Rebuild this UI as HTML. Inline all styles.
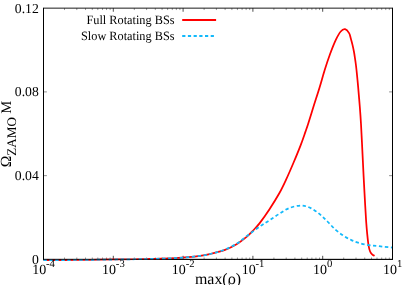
<!DOCTYPE html>
<html><head><meta charset="utf-8"><title>chart</title>
<style>html,body{margin:0;padding:0;background:#fff;}body{width:407px;height:285px;overflow:hidden;font-family:"Liberation Serif",serif;}</style>
</head><body>
<svg width="407" height="285" viewBox="0 0 407 285" style="display:block;will-change:transform">
<rect width="407" height="285" fill="#fff"/>
<path d="M64.51 259.40 v-1.9 M64.51 8.15 v1.9 M76.80 259.40 v-1.9 M76.80 8.15 v1.9 M85.52 259.40 v-1.9 M85.52 8.15 v1.9 M92.29 259.40 v-1.9 M92.29 8.15 v1.9 M97.81 259.40 v-1.9 M97.81 8.15 v1.9 M102.49 259.40 v-1.9 M102.49 8.15 v1.9 M106.54 259.40 v-1.9 M106.54 8.15 v1.9 M110.11 259.40 v-1.9 M110.11 8.15 v1.9 M134.31 259.40 v-1.9 M134.31 8.15 v1.9 M146.60 259.40 v-1.9 M146.60 8.15 v1.9 M155.32 259.40 v-1.9 M155.32 8.15 v1.9 M162.09 259.40 v-1.9 M162.09 8.15 v1.9 M167.61 259.40 v-1.9 M167.61 8.15 v1.9 M172.29 259.40 v-1.9 M172.29 8.15 v1.9 M176.34 259.40 v-1.9 M176.34 8.15 v1.9 M179.91 259.40 v-1.9 M179.91 8.15 v1.9 M204.11 259.40 v-1.9 M204.11 8.15 v1.9 M216.40 259.40 v-1.9 M216.40 8.15 v1.9 M225.12 259.40 v-1.9 M225.12 8.15 v1.9 M231.89 259.40 v-1.9 M231.89 8.15 v1.9 M237.41 259.40 v-1.9 M237.41 8.15 v1.9 M242.09 259.40 v-1.9 M242.09 8.15 v1.9 M246.14 259.40 v-1.9 M246.14 8.15 v1.9 M249.71 259.40 v-1.9 M249.71 8.15 v1.9 M273.91 259.40 v-1.9 M273.91 8.15 v1.9 M286.20 259.40 v-1.9 M286.20 8.15 v1.9 M294.92 259.40 v-1.9 M294.92 8.15 v1.9 M301.69 259.40 v-1.9 M301.69 8.15 v1.9 M307.21 259.40 v-1.9 M307.21 8.15 v1.9 M311.89 259.40 v-1.9 M311.89 8.15 v1.9 M315.94 259.40 v-1.9 M315.94 8.15 v1.9 M319.51 259.40 v-1.9 M319.51 8.15 v1.9 M343.71 259.40 v-1.9 M343.71 8.15 v1.9 M356.00 259.40 v-1.9 M356.00 8.15 v1.9 M364.72 259.40 v-1.9 M364.72 8.15 v1.9 M371.49 259.40 v-1.9 M371.49 8.15 v1.9 M377.01 259.40 v-1.9 M377.01 8.15 v1.9 M381.69 259.40 v-1.9 M381.69 8.15 v1.9 M385.74 259.40 v-1.9 M385.74 8.15 v1.9 M389.31 259.40 v-1.9 M389.31 8.15 v1.9" stroke="#333" stroke-width="0.5" fill="none"/>
<path d="M113.30 259.40 v-3.6 M113.30 8.15 v3.6 M183.10 259.40 v-3.6 M183.10 8.15 v3.6 M252.90 259.40 v-3.6 M252.90 8.15 v3.6 M322.70 259.40 v-3.6 M322.70 8.15 v3.6" stroke="#000" stroke-width="0.7" fill="none"/>
<path d="M43.50 175.65 h3.4 M392.50 175.65 h-3.4 M43.50 91.90 h3.4 M392.50 91.90 h-3.4" stroke="#333" stroke-width="0.55" fill="none"/>
<path d="M43.50 259.40 H392.50" stroke="#000" stroke-width="1" fill="none"/>
<path d="M43.50 260.15 C49.58 260.12 70.58 260.02 80.00 259.95 C89.42 259.88 90.83 259.82 100.00 259.70 C109.17 259.58 126.67 259.38 135.00 259.25 C143.33 259.12 143.33 259.14 150.00 258.95 C156.67 258.76 166.67 258.61 175.00 258.10 C183.33 257.59 193.83 256.67 200.00 255.90 C206.17 255.13 207.83 254.50 212.00 253.50 C216.17 252.50 220.83 251.48 225.00 249.90 C229.17 248.32 233.35 246.20 237.00 244.00 C240.65 241.80 244.27 238.90 246.90 236.70 C249.53 234.50 250.67 233.07 252.80 230.80 C254.93 228.53 256.92 226.70 259.70 223.10 C262.48 219.50 266.23 214.17 269.50 209.20 C272.77 204.23 276.52 198.27 279.30 193.30 C282.08 188.33 283.82 184.53 286.20 179.40 C288.58 174.27 291.22 168.13 293.60 162.50 C295.98 156.87 298.53 150.70 300.50 145.60 C302.47 140.50 304.13 135.50 305.40 131.90 C306.67 128.30 306.73 128.27 308.10 124.00 C309.47 119.73 311.70 112.35 313.60 106.30 C315.50 100.25 317.65 93.75 319.50 87.70 C321.35 81.65 322.97 75.53 324.70 70.00 C326.43 64.47 328.05 59.52 329.90 54.50 C331.75 49.48 334.00 43.73 335.80 39.90 C337.60 36.07 339.15 33.28 340.70 31.50 C342.25 29.72 343.70 28.93 345.10 29.20 C346.50 29.47 348.15 31.55 349.10 33.10 C350.05 34.65 350.23 36.53 350.80 38.50 C351.37 40.47 351.97 42.65 352.50 44.90 C353.03 47.15 353.58 49.75 354.00 52.00 C354.42 54.25 354.70 56.40 355.00 58.40 C355.30 60.40 355.55 62.07 355.80 64.00 C356.05 65.93 356.22 67.33 356.50 70.00 C356.78 72.67 357.22 77.05 357.50 80.00 C357.78 82.95 357.81 83.15 358.20 87.70 C358.59 92.25 359.38 101.25 359.85 107.30 C360.32 113.35 360.59 116.97 361.00 124.00 C361.41 131.03 361.87 140.83 362.30 149.50 C362.73 158.17 363.12 166.67 363.60 176.00 C364.08 185.33 364.77 197.83 365.20 205.50 C365.63 213.17 365.87 217.28 366.20 222.00 C366.53 226.72 366.80 229.87 367.20 233.80 C367.60 237.73 368.12 242.65 368.60 245.60 C369.08 248.55 369.52 250.03 370.10 251.50 C370.68 252.97 371.35 253.68 372.10 254.40 C372.85 255.12 374.18 255.57 374.60 255.80" stroke="#ff0000" stroke-width="1.75" fill="none" stroke-linejoin="round" stroke-linecap="butt"/>
<path d="M43.50 260.15 C49.58 260.12 70.58 260.02 80.00 259.95 C89.42 259.88 90.83 259.82 100.00 259.70 C109.17 259.58 126.67 259.38 135.00 259.25 C143.33 259.12 143.33 259.14 150.00 258.95 C156.67 258.76 166.67 258.61 175.00 258.10 C183.33 257.59 193.83 256.67 200.00 255.90 C206.17 255.13 207.83 254.55 212.00 253.50 C216.17 252.45 220.83 251.27 225.00 249.60 C229.17 247.93 233.35 245.77 237.00 243.50 C240.65 241.23 243.12 238.82 246.90 236.00 C250.68 233.18 255.93 229.22 259.70 226.60 C263.47 223.98 266.23 222.43 269.50 220.30 C272.77 218.17 276.03 215.83 279.30 213.80 C282.57 211.77 285.50 209.48 289.10 208.10 C292.70 206.72 297.28 205.50 300.90 205.50 C304.52 205.50 307.62 206.62 310.80 208.10 C313.98 209.58 317.15 212.08 320.00 214.40 C322.85 216.72 325.28 219.42 327.90 222.00 C330.52 224.58 333.08 227.60 335.70 229.90 C338.32 232.20 340.98 234.10 343.60 235.80 C346.22 237.50 348.78 238.90 351.40 240.10 C354.02 241.30 356.35 242.15 359.30 243.00 C362.25 243.85 365.82 244.67 369.10 245.20 C372.38 245.73 375.10 245.80 379.00 246.20 C382.90 246.60 390.25 247.37 392.50 247.60" stroke="#12b9fb" stroke-width="1.75" fill="none" stroke-dasharray="3.4 2.53" stroke-linejoin="round"/>
<path d="M43.50 8.15 H392.50" stroke="#000" stroke-width="0.9" fill="none"/>
<path d="M43.50 7.75 V259.90 M392.50 7.75 V259.90" stroke="#000" stroke-width="1" fill="none"/>
<path d="M43.50 259.40 H392.50" stroke="#000" stroke-width="1" fill="none" opacity="0.72"/>
<path d="M182.2 19.9 H216.1" stroke="#ff0000" stroke-width="2"/>
<path d="M182.2 35.9 H216.1" stroke="#12b9fb" stroke-width="2" stroke-dasharray="3.2 2.5"/>
<g style="font-family:'Liberation Serif',serif;text-rendering:geometricPrecision" fill="#000" opacity="1">
<text transform="translate(174.5 23.8) scale(0.968 1)" font-size="12.70" text-anchor="end">Full Rotating BSs</text>
<text transform="translate(174.5 40.1) scale(0.968 1)" font-size="12.70" text-anchor="end">Slow Rotating BSs</text>
<text x="38.8" y="263.90" font-size="13.70" text-anchor="end">0</text>
<text x="38.8" y="180.15" font-size="13.70" text-anchor="end">0.04</text>
<text x="38.8" y="96.40" font-size="13.70" text-anchor="end">0.08</text>
<text x="38.8" y="12.65" font-size="13.70" text-anchor="end">0.12</text>
<text x="32.25" y="273.95" font-size="14.00">10<tspan font-size="10.70" dy="-7.0" dx="-0.20">-4</tspan></text>
<text x="102.05" y="273.95" font-size="14.00">10<tspan font-size="10.70" dy="-7.0" dx="-0.20">-3</tspan></text>
<text x="171.85" y="273.95" font-size="14.00">10<tspan font-size="10.70" dy="-7.0" dx="-0.20">-2</tspan></text>
<text x="241.65" y="273.95" font-size="14.00">10<tspan font-size="10.70" dy="-7.0" dx="-0.20">-1</tspan></text>
<text x="313.10" y="273.95" font-size="14.00">10<tspan font-size="10.70" dy="-7.0" dx="0.00">0</tspan></text>
<text x="382.90" y="273.95" font-size="14.00">10<tspan font-size="10.70" dy="-7.0" dx="0.00">1</tspan></text>
<text x="195.0" y="283.5" font-size="15.90">max(ϱ)</text>
<text transform="translate(11.4 167.2) rotate(-90)" font-size="15.50">Ω<tspan font-size="13.10" dy="4.4">ZAMO</tspan><tspan dy="-4.4" dx="-0.3" font-size="14.6"> M</tspan></text>
</g>
</svg>
</body></html>
